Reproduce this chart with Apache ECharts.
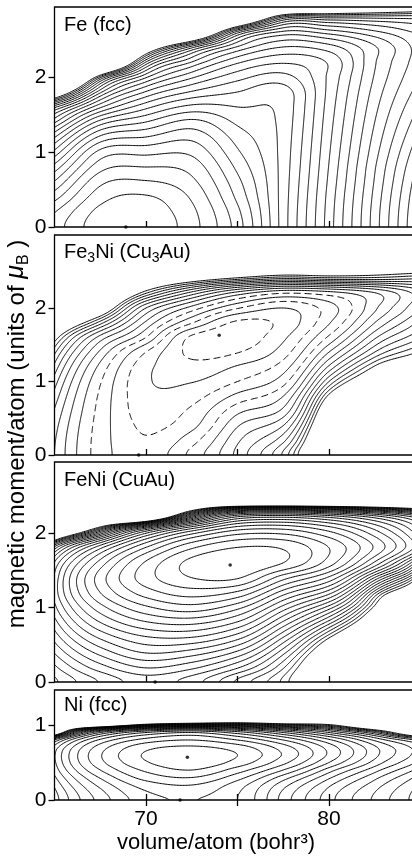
<!DOCTYPE html>
<html>
<head>
<meta charset="utf-8">
<title>Energy contours: magnetic moment vs volume</title>
<script src="https://cdn.jsdelivr.net/npm/echarts@6.0.0/dist/echarts.min.js"></script>
<style>
html,body{margin:0;padding:0;background:#ffffff;}
#chart{width:412px;height:856px;}
</style>
</head>
<body>
<div id="chart"></div>
<script>
// ================= DATA =================
const volumeTicks = [70, 75, 80];
const volumeLabels = [70, 80];
const momentTicks = [0, 1, 2];
const niMomentTicks = [0, 1];

const volumeNodes = [65, 67.5, 70, 72.5, 75, 77.5, 80, 82.5, 85];
const momentNodes = [0, 0.2, 0.4, 0.6, 0.8, 1.0, 1.2, 1.4, 1.6, 1.8, 2.0, 2.2, 2.4, 2.6, 2.8, 3.0];
const niMomentNodes = [0, 0.1, 0.2, 0.3, 0.4, 0.5, 0.6, 0.7, 0.8, 0.9, 1.0, 1.1, 1.2, 1.3, 1.4, 1.5];

// energy at each node counted in contour steps (rows: moment, columns: volume);
// values above the last drawn contour describe the blank regions
const W = 99;

const feEnergy = [
  [2.5, 0.4, 0.2, 1.6, 4.5, 9.5, 14.5, 19.5, 24.5],
  [3.05, 0.7, 0.45, 1.75, 4.75, 9.5, 14.45, 19.45, 24.4],
  [4.4, 1.4, 0.9, 2.15, 5.25, 9.48, 14.35, 19.3, 24.2],
  [5.9, 2.25, 1.9, 2.75, 5.7, 9.45, 14.2, 19.1, 23.9],
  [7.6, 3.4, 3.0, 3.4, 6.25, 9.42, 14.05, 18.9, 23.5],
  [9.7, 4.7, 4.3, 4.25, 6.85, 9.4, 13.9, 18.6, 23.0],
  [12.1, 6.8, 6.0, 5.3, 7.45, 9.37, 13.75, 18.3, 22.4],
  [15.2, 9.6, 8.0, 6.7, 8.2, 9.35, 13.6, 18.0, 21.8],
  [19.3, 13.2, 10.3, 8.7, 9.0, 9.35, 13.45, 17.7, 21.2],
  [30.5, 17.3, 12.9, 10.9, 10.0, 9.5, 13.3, 17.4, 20.6],
  [50.5, 23.5, 16.2, 13.2, 11.4, 10.65, 13.2, 17.1, 20.1],
  [70.5, 42, 21.0, 16.0, 13.2, 12.15, 13.15, 16.9, 19.7],
  [90.5, 62, 30, 20.5, 15.9, 14.0, 14.6, 16.9, 19.6],
  [110.5, 82, 50, 35, 20.6, 16.8, 17.5, 18.8, 20.3],
  [130.5, 102, 70, 55, 36, 23, 22.5, 22.5, 22.5],
  [150.5, 122, 90, 75, 56, 43, 37, 33, 30]
];
const feContourCount = 25;

const fe3niEnergy = [
  [8.0, 4.5, 3.35, 5.3, 8.3, 12.2, 29, 35, 38],
  [8.1, 4.5, 3.1, 4.6, 7.8, 10.7, 25.5, 32, 35],
  [8.4, 4.55, 2.8, 3.7, 6.9, 9.0, 22.3, 29, 32],
  [8.9, 4.65, 2.5, 3.2, 5.7, 7.3, 19.2, 25.5, 29],
  [9.6, 4.8, 2.3, 2.6, 4.3, 6.0, 15.5, 22, 25.5],
  [10.5, 5.1, 2.15, 1.95, 3.0, 4.6, 12.0, 18.5, 22],
  [11.7, 5.7, 2.3, 1.35, 2.1, 3.5, 9.2, 15.2, 18.5],
  [13.3, 6.8, 3.0, 0.75, 0.95, 2.5, 7.0, 12.0, 15.3],
  [16.0, 8.6, 5.0, 0.8, 0.4, 1.8, 5.2, 9.8, 13.0],
  [22, 12.5, 6.8, 3.1, 0.8, 1.3, 3.9, 8.0, 11.4],
  [30, 19, 9.0, 5.6, 3.1, 2.0, 3.5, 6.8, 10.1],
  [40, 27, 14.0, 9.5, 6.5, 5.0, 5.5, 6.9, 9.6],
  [50, 36, 21, 17, 14.5, 13.0, 13.5, 13.5, 13.0],
  [60, 46, 30, 26, 22, 20, 19.5, 19, 19.5],
  [70, 56, 40, 35, 31, 29, 28, 27, 27],
  [80, 66, 50, 45, 41, 39, 37, 36, 36]
];
const fe3niContourCount = 15;
const fe3niDashedLevels = [1, 3, 5];

const feniEnergy = [
  [18.2, 15.9, 14.5, 15.5, 18.2, 21.3, 34, 41, 50],
  [17.2, 14.4, 12.9, 13.7, 15.8, 19.8, 30, 38, 47],
  [15.9, 12.6, 10.9, 11.4, 13.2, 17.6, 26, 34.5, 44],
  [14.6, 10.8, 9.1, 9.0, 10.6, 15.0, 21.8, 30.5, 40],
  [13.4, 9.0, 7.1, 6.7, 8.1, 12.2, 17.5, 26.5, 36],
  [12.3, 7.4, 5.2, 4.4, 5.7, 9.4, 13.5, 22.5, 32],
  [11.6, 6.0, 3.5, 2.5, 3.2, 6.5, 9.6, 18.7, 28],
  [11.8, 5.5, 2.45, 1.0, 0.9, 3.6, 6.2, 13.1, 23.2],
  [12.9, 6.6, 2.85, 0.68, 0.05, 1.0, 3.5, 8.2, 16.8],
  [16.5, 9.2, 4.9, 2.1, 0.95, 1.1, 3.0, 6.15, 11.0],
  [W, 16.8, 9.1, 5.3, 3.3, 3.2, 4.7, 7.5, 11.8],
  [W, W, W, 14.3, 8.3, 7.6, 8.7, 10.9, 14.3],
  [W, W, W, W, W, W, W, W, W],
  [W, W, W, W, W, W, W, W, W],
  [W, W, W, W, W, W, W, W, W],
  [W, W, W, W, W, W, W, W, W]
];
const feniContourCount = 22;

const niEnergy = [
  [10.5, 6.6, 4.4, 3.95, 5.0, 8.4, 11.6, 14.2, 16.7],
  [10.3, 6.3, 4.1, 3.6, 4.9, 8.2, 11.4, 14.0, 16.6],
  [9.8, 5.7, 3.5, 3.0, 4.5, 7.6, 10.8, 13.5, 16.2],
  [9.2, 4.9, 2.6, 2.0, 3.6, 6.5, 9.8, 12.7, 15.5],
  [8.6, 4.0, 1.8, 1.0, 2.5, 5.0, 8.5, 11.6, 14.5],
  [8.2, 3.3, 1.1, 0.25, 1.4, 3.7, 7.0, 10.4, 13.4],
  [8.1, 3.1, 0.85, 0.05, 1.0, 3.1, 6.2, 9.7, 12.7],
  [8.6, 3.5, 1.3, 0.8, 1.5, 3.5, 6.4, 9.8, 12.7],
  [11.0, 4.8, 2.6, 2.0, 3.0, 5.0, 7.8, 11.2, 14.5],
  [W, 8.0, 5.0, 4.0, 5.5, 8.0, 11.0, 15.0, W],
  [W, W, 16.0, 14.0, 14.0, 16.0, 17.5, W, W],
  [W, W, W, W, W, W, W, W, W],
  [W, W, W, W, W, W, W, W, W],
  [W, W, W, W, W, W, W, W, W],
  [W, W, W, W, W, W, W, W, W],
  [W, W, W, W, W, W, W, W, W]
];
const niContourCount = 18;

// marked equilibrium points [volume, moment]
const feMinima = [[68.9, 0]];
const fe3niMinima = [[74.0, 1.63], [69.6, 0]];
const feniMinima = [[74.6, 1.57], [70.5, 0]];
const niMinima = [[72.26, 0.57], [71.86, 0]];

// ================= LAYOUT =================
const FONT = '"Liberation Sans", Arial, Helvetica, sans-serif';
const panels = [
  {energy: feEnergy, moments: momentNodes, count: feContourCount, dashed: [], minima: feMinima, yMax: 2.933, top: 7, height: 220, ticks: momentTicks, soft: 40},
  {energy: fe3niEnergy, moments: momentNodes, count: fe3niContourCount, dashed: fe3niDashedLevels, minima: fe3niMinima, yMax: 2.993, top: 235, height: 220, ticks: momentTicks, soft: 8},
  {energy: feniEnergy, moments: momentNodes, count: feniContourCount, dashed: [], minima: feniMinima, yMax: 2.953, top: 462, height: 220, ticks: momentTicks, soft: 7},
  {energy: niEnergy, moments: niMomentNodes, count: niContourCount, dashed: [], minima: niMinima, yMax: 1.467, top: 690, height: 110, ticks: niMomentTicks, soft: 6}
];

// ================= CONTOURING =================
function cr(p0, p1, p2, p3, t) {
  return 0.5 * ((2 * p1) + (-p0 + p2) * t + (2 * p0 - 5 * p1 + 4 * p2 - p3) * t * t + (-p0 + 3 * p1 - 3 * p2 + p3) * t * t * t);
}
function sampler(rows, xs, ys, K) {
  const nx = xs.length, ny = ys.length;
  const dx = xs[1] - xs[0], dy = ys[1] - ys[0];
  const T = rows.map(r => r.map(v => 1 - Math.exp(-v / K)));
  function at(i, j) {
    if (j < 0) j = -j;
    if (j > ny - 1) j = ny - 1;
    if (i < 0) return 2 * at(0, j) - at(1, j);
    if (i > nx - 1) return 2 * at(nx - 1, j) - at(nx - 2, j);
    return T[j][i];
  }
  return function (x, y) {
    const gx = (x - xs[0]) / dx, gy = (y - ys[0]) / dy;
    let i = Math.floor(gx), j = Math.floor(gy);
    if (i > nx - 2) i = nx - 2; if (i < 0) i = 0;
    if (j > ny - 2) j = ny - 2; if (j < 0) j = 0;
    const tx = gx - i, ty = gy - j;
    const c = [];
    for (let m = -1; m <= 2; m++) c.push(cr(at(i - 1, j + m), at(i, j + m), at(i + 1, j + m), at(i + 2, j + m), tx));
    let t = cr(c[0], c[1], c[2], c[3], ty);
    if (t > 0.999999) t = 0.999999;
    return -K * Math.log(1 - t);
  };
}
function buildField(f, x0, x1, nx, y0, y1, ny) {
  const X = [], Y = [];
  for (let i = 0; i < nx; i++) X.push(x0 + (x1 - x0) * i / (nx - 1));
  for (let j = 0; j < ny; j++) Y.push(y0 + (y1 - y0) * j / (ny - 1));
  const F = new Float64Array(nx * ny);
  for (let j = 0; j < ny; j++) for (let i = 0; i < nx; i++) F[j * nx + i] = f(X[i], Y[j]);
  return {X, Y, F, nx, ny};
}
function contour(fd, level) {
  const {X, Y, F, nx, ny} = fd;
  const pts = new Map(), adj = new Map(), segs = [];
  function edgePoint(id) {
    if (pts.has(id)) return;
    const cell = id >> 1, vert = id & 1;
    const i = cell % nx, j = (cell - i) / nx;
    const p = F[j * nx + i] - level;
    let q, qx, qy;
    if (vert) { q = F[(j + 1) * nx + i] - level; qx = X[i]; qy = Y[j + 1]; }
    else { q = F[j * nx + i + 1] - level; qx = X[i + 1]; qy = Y[j]; }
    const t = p / (p - q);
    pts.set(id, [X[i] + (qx - X[i]) * t, Y[j] + (qy - Y[j]) * t]);
  }
  function addSeg(e1, e2) {
    edgePoint(e1); edgePoint(e2);
    const k = segs.length; segs.push([e1, e2]);
    if (!adj.has(e1)) adj.set(e1, []); adj.get(e1).push(k);
    if (!adj.has(e2)) adj.set(e2, []); adj.get(e2).push(k);
  }
  for (let j = 0; j < ny - 1; j++) {
    for (let i = 0; i < nx - 1; i++) {
      const a = F[j * nx + i] - level, b = F[j * nx + i + 1] - level;
      const c = F[(j + 1) * nx + i + 1] - level, d = F[(j + 1) * nx + i] - level;
      const code = (a > 0 ? 1 : 0) | (b > 0 ? 2 : 0) | (c > 0 ? 4 : 0) | (d > 0 ? 8 : 0);
      if (code === 0 || code === 15) continue;
      const eB = (j * nx + i) * 2, eR = (j * nx + i + 1) * 2 + 1, eT = ((j + 1) * nx + i) * 2, eL = (j * nx + i) * 2 + 1;
      if (code === 5 || code === 10) {
        const ctr = (a + b + c + d) / 4;
        if ((code === 5) === (ctr > 0)) { addSeg(eB, eR); addSeg(eL, eT); }
        else { addSeg(eB, eL); addSeg(eR, eT); }
        continue;
      }
      const e = [];
      if ((a > 0) !== (b > 0)) e.push(eB);
      if ((b > 0) !== (c > 0)) e.push(eR);
      if ((d > 0) !== (c > 0)) e.push(eT);
      if ((a > 0) !== (d > 0)) e.push(eL);
      if (e.length === 2) addSeg(e[0], e[1]);
    }
  }
  const used = new Uint8Array(segs.length);
  const lines = [];
  function walk(start) {
    const chain = [pts.get(start)];
    let cur = start;
    for (;;) {
      const list = adj.get(cur);
      let k = -1;
      for (const s of list) if (!used[s]) { k = s; break; }
      if (k < 0) break;
      used[k] = 1;
      const nxt = segs[k][0] === cur ? segs[k][1] : segs[k][0];
      chain.push(pts.get(nxt));
      cur = nxt;
    }
    if (chain.length > 1) lines.push(chain);
  }
  for (const [id, list] of adj) if (list.length === 1) {
    const s = list[0]; if (!used[s]) walk(id);
  }
  for (let k = 0; k < segs.length; k++) if (!used[k]) walk(segs[k][0]);
  return lines;
}

// ================= CHART =================
const chart = echarts.init(document.getElementById('chart'), null, {renderer: 'canvas'});
const grids = [], xAxes = [], yAxes = [], series = [];
const X0 = 65, X1 = 85;

panels.forEach(function (p, idx) {
  grids.push({left: 54.5, top: p.top, width: 366, height: p.height, show: true, borderColor: '#000', borderWidth: 1.3,
    backgroundColor: 'transparent', containLabel: false, outerBoundsMode: 'none'});
  xAxes.push({gridIndex: idx, type: 'value', min: X0, max: X1, interval: 5,
    axisLine: {show: false}, splitLine: {show: false},
    axisTick: {show: true, inside: true, length: 6, customValues: volumeTicks, lineStyle: {color: '#000', width: 1.3}},
    axisLabel: {show: false}});
  yAxes.push({gridIndex: idx, type: 'value', min: 0, max: p.yMax, interval: 1,
    axisLine: {show: false}, splitLine: {show: false},
    axisTick: {show: true, inside: false, length: 6, customValues: p.ticks, lineStyle: {color: '#000', width: 1.3}},
    axisLabel: {show: true, customValues: p.ticks, margin: 8, fontSize: 21, color: '#000', fontFamily: FONT}});

  const f = sampler(p.energy, volumeNodes, p.moments, p.soft);
  const ny = Math.round(p.yMax / 0.008) + 1;
  const fd = buildField(f, X0, X1, 241, 0, p.yMax, ny);
  const solid = [], dashed = [];
  for (let L = 1; L <= p.count; L++) {
    const ls = contour(fd, L);
    const target = p.dashed.indexOf(L) >= 0 ? dashed : solid;
    ls.forEach(function (c) { target.push({coords: c}); });
  }
  series.push({type: 'lines', coordinateSystem: 'cartesian2d', xAxisIndex: idx, yAxisIndex: idx, polyline: true,
    silent: true, animation: false, clip: true, data: solid,
    lineStyle: {color: '#000', width: 1.0, opacity: 1}});
  if (dashed.length) series.push({type: 'lines', coordinateSystem: 'cartesian2d', xAxisIndex: idx, yAxisIndex: idx, polyline: true,
    silent: true, animation: false, clip: true, data: dashed,
    lineStyle: {color: '#000', width: 1.0, opacity: 1, type: [7, 4]}});
  series.push({type: 'scatter', xAxisIndex: idx, yAxisIndex: idx, data: p.minima, symbolSize: 3.5,
    itemStyle: {color: '#000'}, silent: true, animation: false});
});

xAxes.push({gridIndex: 3, type: 'value', min: X0, max: X1, interval: 5, position: 'bottom',
  axisLine: {show: false}, splitLine: {show: false},
  axisTick: {show: true, inside: false, length: 6, customValues: volumeTicks, lineStyle: {color: '#000', width: 1.3}},
  axisLabel: {show: true, customValues: volumeLabels, margin: 9, fontSize: 21, color: '#000', fontFamily: FONT}});

const richBase = {
  n: {fontSize: 20, fontFamily: FONT, lineHeight: 24, verticalAlign: 'bottom', fill: '#000'},
  s: {fontSize: 14, fontFamily: FONT, lineHeight: 16, verticalAlign: 'bottom', fill: '#000', padding: [0, 0, -3, 0]}
};

chart.setOption({
  animation: false,
  backgroundColor: '#fff',
  grid: grids,
  xAxis: xAxes,
  yAxis: yAxes,
  series: series,
  graphic: [
    {type: 'text', left: 64, top: 15, silent: true, style: {text: '{n|Fe (fcc)}', rich: richBase}},
    {type: 'text', left: 64, top: 242, silent: true, style: {text: '{n|Fe}{s|3}{n|Ni (Cu}{s|3}{n|Au)}', rich: richBase}},
    {type: 'text', left: 64, top: 470, silent: true, style: {text: '{n|FeNi (CuAu)}', rich: richBase}},
    {type: 'text', left: 64, top: 695, silent: true, style: {text: '{n|Ni (fcc)}', rich: richBase}},
    {type: 'text', x: 216, y: 843, silent: true,
      style: {text: 'volume/atom (bohr³)', font: '22px ' + FONT, fill: '#000', align: 'center', verticalAlign: 'middle'}},
    {type: 'text', x: 15, y: 434, rotation: Math.PI / 2, silent: true,
      style: {text: '{n|magnetic moment/atom (units of }{m|μ}{s|B}{n| )}', align: 'center', verticalAlign: 'middle',
        rich: {
          n: {fontSize: 24, fontFamily: FONT, lineHeight: 28, verticalAlign: 'bottom', fill: '#000'},
          m: {fontSize: 25, fontFamily: FONT, fontStyle: 'italic', lineHeight: 28, verticalAlign: 'bottom', fill: '#000'},
          s: {fontSize: 16, fontFamily: FONT, lineHeight: 20, verticalAlign: 'bottom', fill: '#000', padding: [0, 0, -3, 0]}
        }}}
  ]
});
</script>
</body>
</html>
